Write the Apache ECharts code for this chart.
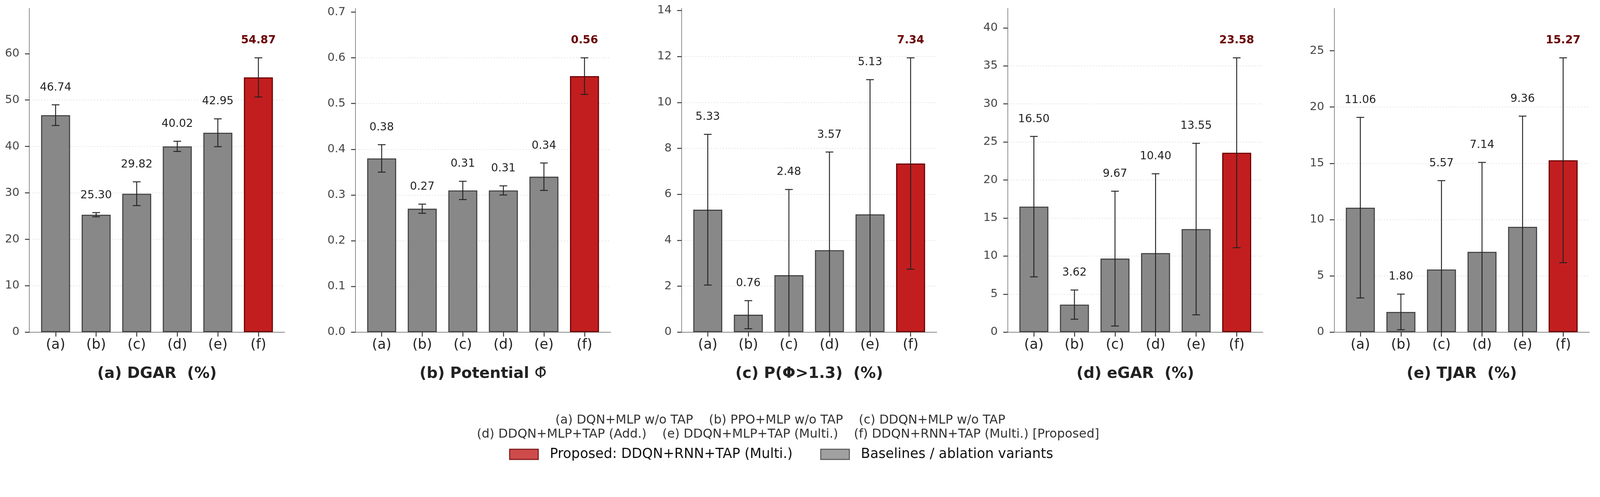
<!DOCTYPE html>
<html lang="en">
<head>
  <meta charset="UTF-8">
  <title>Ablation results</title>
  <script src="https://cdn.jsdelivr.net/npm/echarts@6/dist/echarts.min.js"></script>
  <style>
    html, body { margin: 0; padding: 0; background: #fff; overflow: hidden; }
    #chart { width: 100vw; height: 100vh; }
  </style>
</head>
<body>
<div id="chart"></div>
<script>
  // categories (one bar per method)
  var CATS = ['(a)', '(b)', '(c)', '(d)', '(e)', '(f)'];

  // means and std
  var DGAR_MEAN = [46.74, 25.30, 29.82, 40.02, 42.95, 54.87];
  var DGAR_STD = [2.23, 0.45, 2.56, 1.10, 3.00, 4.22];
  var PHI_MEAN = [0.38, 0.27, 0.31, 0.31, 0.34, 0.56];
  var PHI_STD = [0.03, 0.01, 0.02, 0.01, 0.03, 0.04];
  var PGT_MEAN = [5.33, 0.76, 2.48, 3.57, 5.13, 7.34];
  var PGT_STD = [3.28, 0.61, 3.73, 4.27, 5.86, 4.60];
  var EGAR_MEAN = [16.50, 3.62, 9.67, 10.40, 13.55, 23.58];
  var EGAR_STD = [9.23, 1.92, 8.86, 10.42, 11.27, 12.48];
  var TJAR_MEAN = [11.06, 1.80, 5.57, 7.14, 9.36, 15.27];
  var TJAR_STD = [8.02, 1.58, 7.89, 7.94, 9.83, 9.10];

  // y tick values per panel
  var TICKS_DGAR = [0, 10, 20, 30, 40, 50, 60];
  var TICKS_PHI = [0, 0.1, 0.2, 0.3, 0.4, 0.5, 0.6, 0.7];
  var TICKS_PGT = [0, 2, 4, 6, 8, 10, 12, 14];
  var TICKS_EGAR = [0, 5, 10, 15, 20, 25, 30, 35, 40];
  var TICKS_TJAR = [0, 5, 10, 15, 20, 25];

  var LEGEND_PROPOSED = 'Proposed: DDQN+RNN+TAP (Multi.)';
  var LEGEND_BASE = 'Baselines / ablation variants';
  var NOTE_1 = '(a) DQN+MLP w/o TAP    (b) PPO+MLP w/o TAP    (c) DDQN+MLP w/o TAP';
  var NOTE_2 = '(d) DDQN+MLP+TAP (Add.)    (e) DDQN+MLP+TAP (Multi.)    (f) DDQN+RNN+TAP (Multi.) [Proposed]';

  var panels = [
    { mean: DGAR_MEAN, std: DGAR_STD, ticks: TICKS_DGAR, step: 10, dec: 0, title: [['b', '(a) DGAR  (%)']] },
    { mean: PHI_MEAN, std: PHI_STD, ticks: TICKS_PHI, step: 0.1, dec: 1, title: [['b', '(b) Potential '], ['m', 'Φ̄']] },
    { mean: PGT_MEAN, std: PGT_STD, ticks: TICKS_PGT, step: 2, dec: 0, title: [['b', '(c) P(Φ>1.3)  (%)']] },
    { mean: EGAR_MEAN, std: EGAR_STD, ticks: TICKS_EGAR, step: 5, dec: 0, title: [['b', '(d) eGAR  (%)']] },
    { mean: TJAR_MEAN, std: TJAR_STD, ticks: TICKS_TJAR, step: 5, dec: 0, title: [['b', '(e) TJAR  (%)']] }
  ];

  var FONT = 'DejaVu Sans';
  var GREY = '#888888', GREY_EDGE = '#444444';
  var RED = '#c21e1f', RED_EDGE = '#6b0000';
  var LEFTS = [80, 968, 1856, 2744, 3633];
  var PW = 695, PT = 23, PH = 882;

  var dom = document.getElementById('chart');
  var chart = echarts.init(dom);
  // layout was measured on a 4357x1273 canvas; scale to whatever we got
  var S = Math.min(chart.getWidth() / 4357, chart.getHeight() / 1273);
  function px(v) { return v * S; }

  function renderErr(params, api) {
    var x = api.value(0), v = api.value(1), s = api.value(2);
    var lo = Math.max(0, v - s);
    var top = api.coord([x, v + s]);
    var bot = api.coord([x, lo]);
    var cap = px(10.5);
    var st = { stroke: '#222', lineWidth: px(2.5) };
    var kids = [
      { type: 'line', shape: { x1: top[0], y1: top[1], x2: bot[0], y2: bot[1] }, style: st },
      { type: 'line', shape: { x1: top[0] - cap, y1: top[1], x2: top[0] + cap, y2: top[1] }, style: st }
    ];
    if (lo > 0) {
      kids.push({ type: 'line', shape: { x1: bot[0] - cap, y1: bot[1], x2: bot[0] + cap, y2: bot[1] }, style: st });
    }
    var best = x === 5;
    kids.push({
      type: 'text', x: top[0], y: top[1] - px(47),
      style: {
        text: v.toFixed(2), align: 'center', verticalAlign: 'middle',
        textAlign: 'center', textVerticalAlign: 'middle',
        fontFamily: FONT, fontSize: px(30), fontWeight: best ? 'bold' : 'normal',
        fill: best ? RED_EDGE : '#222'
      }
    });
    return { type: 'group', children: kids };
  }

  var grids = [], xAxes = [], yAxes = [], series = [], graphics = [];

  panels.forEach(function (p, k) {
    var ymax = 0;
    for (var i = 0; i < p.mean.length; i++) ymax = Math.max(ymax, p.mean[i] + p.std[i]);
    ymax = ymax * 1.18;

    grids.push({ left: px(LEFTS[k]), top: px(PT), width: px(PW), height: px(PH) });
    xAxes.push({
      type: 'value', gridIndex: k, min: -0.646, max: 5.646,
      axisLine: { onZero: false, lineStyle: { color: '#888', width: px(2) } },
      axisTick: { customValues: [0, 1, 2, 3, 4, 5], length: px(12), lineStyle: { color: '#333', width: px(2.5) } },
      axisLabel: {
        customValues: [0, 1, 2, 3, 4, 5], margin: px(16),
        fontFamily: FONT, fontSize: px(38), color: '#222',
        formatter: function (v) { return CATS[Math.round(v)]; }
      },
      splitLine: { show: false }
    });
    yAxes.push({
      type: 'value', gridIndex: k, min: 0, max: ymax, interval: p.step,
      axisLine: { show: true, onZero: false, lineStyle: { color: '#888', width: px(2) } },
      axisTick: { show: true, customValues: p.ticks, length: px(12), lineStyle: { color: '#333', width: px(2.5) } },
      axisLabel: {
        customValues: p.ticks, margin: px(27), fontFamily: FONT, fontSize: px(31), color: '#444',
        formatter: (function (d) { return function (v) { return v.toFixed(d); }; })(p.dec)
      },
      splitLine: { show: true, showMinLine: false, showMaxLine: false, lineStyle: { color: '#e2e2e2', width: px(2), type: [px(3), px(5)] } }
    });

    series.push({
      type: 'bar', xAxisIndex: k, yAxisIndex: k, barWidth: px(79), z: 2,
      data: p.mean.map(function (v, i) {
        var best = i === 5;
        return {
          value: [i, v],
          itemStyle: { color: best ? RED : GREY, borderColor: best ? RED_EDGE : GREY_EDGE, borderWidth: px(3) }
        };
      })
    });
    series.push({
      type: 'custom', xAxisIndex: k, yAxisIndex: k, z: 4, clip: false,
      encode: { x: 0, y: 1 },
      renderItem: renderErr,
      data: p.mean.map(function (v, i) { return [i, v, p.std[i]]; })
    });

    var rich = { b: { fontFamily: FONT, fontSize: px(42), fontWeight: 'bold', fill: '#222', color: '#222' },
                 m: { fontFamily: FONT, fontSize: px(42), fontWeight: 'normal', fill: '#222', color: '#222' } };
    graphics.push({
      type: 'text', x: px(LEFTS[k] + PW / 2), y: px(1019),
      style: {
        text: p.title.map(function (t) { return '{' + t[0] + '|' + t[1] + '}'; }).join(''),
        rich: rich, align: 'center', verticalAlign: 'middle',
        textAlign: 'center', textVerticalAlign: 'middle'
      }
    });
  });

  // dummy series for the legend
  series.push({ type: 'scatter', name: LEGEND_PROPOSED, xAxisIndex: 0, yAxisIndex: 0, data: [] });
  series.push({ type: 'scatter', name: LEGEND_BASE, xAxisIndex: 0, yAxisIndex: 0, data: [] });

  graphics.push({
    type: 'text', x: px(2125), y: px(1145),
    style: { text: NOTE_1, fontFamily: FONT, fontSize: px(33.8), fill: '#333', align: 'center', verticalAlign: 'middle', textAlign: 'center', textVerticalAlign: 'middle' }
  });
  graphics.push({
    type: 'text', x: px(2146), y: px(1184),
    style: { text: NOTE_2, fontFamily: FONT, fontSize: px(33.8), fill: '#333', align: 'center', verticalAlign: 'middle', textAlign: 'center', textVerticalAlign: 'middle' }
  });

  chart.setOption({
    animation: false,
    backgroundColor: '#fff',
    grid: grids,
    xAxis: xAxes,
    yAxis: yAxes,
    series: series,
    graphic: graphics,
    legend: {
      left: px(1381), top: px(1214), orient: 'horizontal',
      itemWidth: px(78), itemHeight: px(28), itemGap: px(75), selectedMode: false,
      textStyle: { fontFamily: FONT, fontSize: px(37), color: '#111', padding: [0, 0, 0, px(26)] },
      data: [
        { name: LEGEND_PROPOSED, icon: 'rect', itemStyle: { color: RED, borderColor: RED_EDGE, borderWidth: px(3) } },
        { name: LEGEND_BASE, icon: 'rect', itemStyle: { color: GREY, borderColor: GREY_EDGE, borderWidth: px(3) } }
      ]
    }
  });
</script>
</body>
</html>
